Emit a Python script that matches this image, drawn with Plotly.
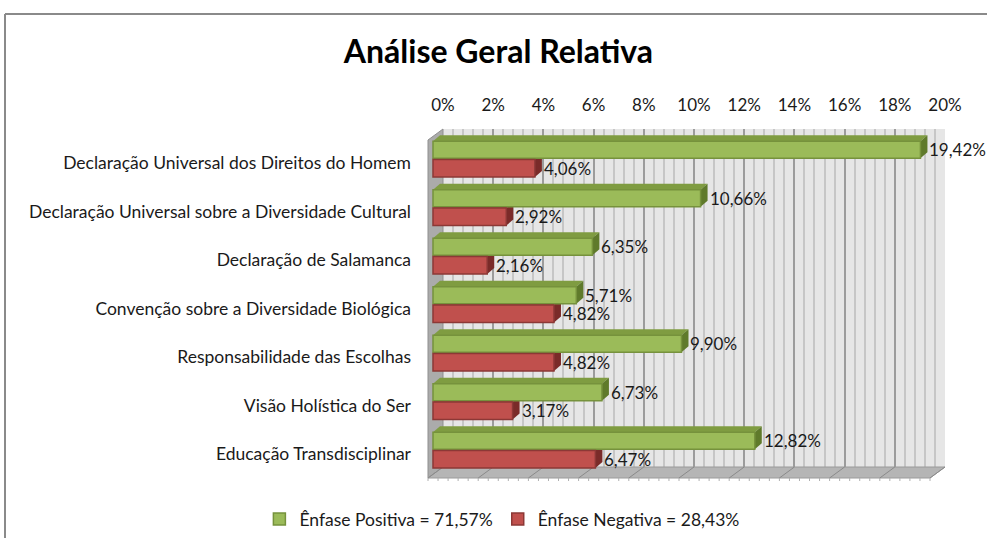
import plotly.graph_objects as go

# ---------------- data ----------------
categories = [
    "Declaração Universal dos Direitos do Homem",
    "Declaração Universal sobre a Diversidade Cultural",
    "Declaração de Salamanca",
    "Convenção sobre a Diversidade Biológica",
    "Responsabilidade das Escolhas",
    "Visão Holística do Ser",
    "Educação Transdisciplinar",
]
positive = [19.42, 10.66, 6.35, 5.71, 9.90, 6.73, 12.82]
negative = [4.06, 2.92, 2.16, 4.82, 4.82, 3.17, 6.47]
series_names = ["Ênfase Positiva = 71,57%", "Ênfase Negativa = 28,43%"]
tick_values = [0, 2, 4, 6, 8, 10, 12, 14, 16, 18, 20]
tick_labels = ["0%", "2%", "4%", "6%", "8%", "10%", "12%", "14%", "16%", "18%", "20%"]
title_text = "Análise Geral Relativa"

# ---------------- geometry (pixels) ----------------
W, H = 987, 538
SCALE = 25.1      # px per 1 %
BAR0_X = 433      # px of 0 % on the bar plane
CAT0_Y = 163      # px of first category centre
BAND = 48.5       # px per category
FONT = "Lato"
TXT = "#1a1a1a"

def fx(px):
    return px / W

def fy(py):
    return 1 - py / H

X2_PX = (415, 965)
Y2_PX = (112, 485)
x2_range = [(X2_PX[0] - BAR0_X) / SCALE, (X2_PX[1] - BAR0_X) / SCALE]
y2_range = [(Y2_PX[1] - CAT0_Y) / BAND, (Y2_PX[0] - CAT0_Y) / BAND]

def dxu(px):
    return px / SCALE

def dyu(px):
    return px / BAND

FRONT_DX, FRONT_DY = dxu(-5), dyu(4)
BACK_DX, BACK_DY = dxu(10), dyu(-7)
BAR_DX, BAR_DY = dxu(7), dyu(-6)
TOP_Y = dyu(136 - CAT0_Y)
FLOOR_Y = dyu(474 - CAT0_Y)

G_OFF, G_W = -0.45, 0.35
R_OFF, R_W = -0.07, 0.36

GREEN, GREEN_EDGE, GREEN_TOP, GREEN_SIDE = "#9bbb59", "#76923c", "#7f9c41", "#5f7a2b"
RED, RED_EDGE, RED_TOP, RED_SIDE = "#c0504d", "#8c3836", "#9c3b39", "#7a2b29"

idx = list(range(len(categories)))

fig = go.Figure()

fig.add_trace(go.Scatter(x=[0, 20], y=[0, 1], mode="markers", marker=dict(opacity=0),
                         showlegend=False, hoverinfo="skip", xaxis="x", yaxis="y"))

fig.add_trace(go.Bar(
    y=idx, x=positive, orientation="h", name=series_names[0],
    offset=G_OFF, width=G_W,
    marker=dict(color=GREEN, line=dict(color=GREEN_EDGE, width=1.5)),
    xaxis="x2", yaxis="y2", hoverinfo="x",
))
fig.add_trace(go.Bar(
    y=idx, x=negative, orientation="h", name=series_names[1],
    offset=R_OFF, width=R_W,
    marker=dict(color=RED, line=dict(color=RED_EDGE, width=1.5)),
    xaxis="x2", yaxis="y2", hoverinfo="x",
))

shapes = []
# chart border: only top and left edges are visible in the reference
shapes.append(dict(type="line", xref="paper", yref="paper", x0=fx(5), x1=1, y0=fy(14), y1=fy(14),
                   line=dict(color="#8a8a8a", width=2), layer="below"))
shapes.append(dict(type="line", xref="paper", yref="paper", x0=fx(5), x1=fx(5), y0=0, y1=fy(14),
                   line=dict(color="#8a8a8a", width=2), layer="below"))
shapes.append(dict(type="rect", xref="x domain", yref="y domain", x0=0, x1=1, y0=0, y1=1,
                   fillcolor="#e6e6e6", line=dict(width=0), layer="below"))

def poly(pts, fill, line_color=None, lw=0):
    d = "M " + " L ".join(f"{x:.4f},{y:.4f}" for x, y in pts) + " Z"
    return dict(type="path", xref="x2", yref="y2", path=d, fillcolor=fill,
                line=dict(color=line_color or fill, width=lw), layer="below")

shapes.append(poly([(FRONT_DX, TOP_Y + FRONT_DY), (BACK_DX, TOP_Y + BACK_DY),
                    (BACK_DX, FLOOR_Y + BACK_DY), (FRONT_DX, FLOOR_Y + FRONT_DY)],
                   "#ababab", "#8f8f8f", 1))
shapes.append(poly([(FRONT_DX, FLOOR_Y + FRONT_DY), (20 + FRONT_DX, FLOOR_Y + FRONT_DY),
                    (20 + BACK_DX, FLOOR_Y + BACK_DY), (BACK_DX, FLOOR_Y + BACK_DY)],
                   "#b5b5b5", "#9a9a9a", 1))
for t in tick_values:
    shapes.append(dict(type="line", xref="x2", yref="y2",
                       x0=t + FRONT_DX, y0=FLOOR_Y + FRONT_DY, x1=t + BACK_DX, y1=FLOOR_Y + BACK_DY,
                       line=dict(color="#8a8a8a", width=1), layer="below"))
minor_ticks = [i * 0.4 for i in range(51)]
for t in minor_ticks:
    shapes.append(dict(type="line", xref="x2", yref="y2",
                       x0=t + FRONT_DX, y0=FLOOR_Y + FRONT_DY, x1=t + FRONT_DX, y1=FLOOR_Y + FRONT_DY + dyu(3),
                       line=dict(color="#b0b0b0", width=1), layer="below"))

for i, v in zip(idx, positive):
    top, bot = i + G_OFF, i + G_OFF + G_W
    shapes.append(poly([(0, top), (v, top), (v + BAR_DX, top + BAR_DY), (BAR_DX, top + BAR_DY)], GREEN_TOP))
    shapes.append(poly([(v, top), (v + BAR_DX, top + BAR_DY), (v + BAR_DX, bot + BAR_DY), (v, bot)], GREEN_SIDE))
for i, v in zip(idx, negative):
    top, bot = i + R_OFF, i + R_OFF + R_W
    shapes.append(poly([(0, top), (v, top), (v + BAR_DX, top + BAR_DY), (BAR_DX, top + BAR_DY)], RED_TOP))
    shapes.append(poly([(v, top), (v + BAR_DX, top + BAR_DY), (v + BAR_DX, bot + BAR_DY), (v, bot)], RED_SIDE))

def fmt(v):
    return f"{v:.2f}".replace(".", ",") + "%"

annotations = []
for i, v in zip(idx, positive):
    annotations.append(dict(x=v, y=i + G_OFF + G_W / 2, xref="x2", yref="y2", text=fmt(v),
                            showarrow=False, xanchor="left", yanchor="middle", xshift=7,
                            font=dict(family=FONT, size=17, color=TXT)))
for i, v in zip(idx, negative):
    annotations.append(dict(x=v, y=i + R_OFF + R_W / 2, xref="x2", yref="y2", text=fmt(v),
                            showarrow=False, xanchor="left", yanchor="middle", xshift=7,
                            font=dict(family=FONT, size=17, color=TXT)))

fig.update_layout(
    width=W, height=H,
    autosize=False,
    margin=dict(l=0, r=0, t=0, b=0, autoexpand=False),
    paper_bgcolor="white", plot_bgcolor="rgba(0,0,0,0)",
    separators=",.",
    font=dict(family=FONT, size=17, color=TXT),
    title=dict(text=title_text, x=0.505, xanchor="center", y=fy(52), yanchor="middle",
               font=dict(family=FONT, size=32, color="#000000", weight="bold")),
    barmode="overlay",
    xaxis=dict(domain=[fx(BAR0_X + 10), fx(BAR0_X + 10 + 20 * SCALE)], range=[0, 20],
               side="top", tickmode="array", tickvals=tick_values, ticktext=tick_labels,
               ticks="", ticklabelstandoff=14, showline=False, zeroline=False, automargin=False,
               showgrid=True, gridcolor="#9c9c9c", gridwidth=1.5,
               minor=dict(dtick=0.4, tick0=0, showgrid=True, gridcolor="#c6c6c6", gridwidth=1.5),
               tickfont=dict(family=FONT, size=17, color=TXT), anchor="y", fixedrange=True),
    yaxis=dict(domain=[fy(467), fy(129)], range=[0, 1], visible=False, anchor="x",
               automargin=False, fixedrange=True),
    xaxis2=dict(domain=[fx(X2_PX[0]), fx(X2_PX[1])], range=x2_range, visible=False,
                anchor="y2", automargin=False, fixedrange=True),
    yaxis2=dict(domain=[fy(Y2_PX[1]), fy(Y2_PX[0])], range=y2_range, anchor="x2",
                tickmode="array", tickvals=idx, ticktext=categories, ticks="", automargin=False,
                showgrid=False, zeroline=False, showline=False, ticklabelstandoff=3,
                tickfont=dict(family=FONT, size=17.5, color=TXT), fixedrange=True),
    legend=dict(orientation="h", x=0.5085, xanchor="center", y=fy(519), yanchor="middle",
                font=dict(family=FONT, size=17.5, color=TXT), itemwidth=30,
                bgcolor="rgba(0,0,0,0)", traceorder="normal"),
    shapes=shapes,
    annotations=annotations,
)

fig.write_html(
    "out.html",
    config={"displayModeBar": False, "responsive": False},
    post_script=(
        "document.body.style.margin='0px';"
        "document.body.style.overflow='hidden';"
        "document.documentElement.style.overflow='hidden';"
    ),
)
